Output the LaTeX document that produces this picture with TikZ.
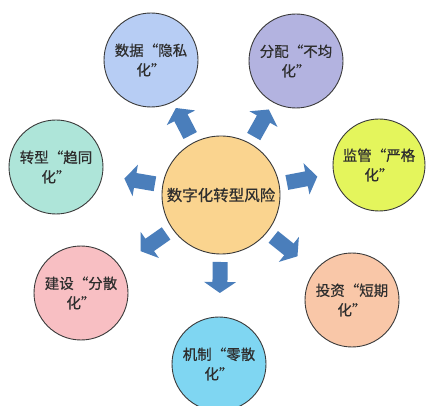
\documentclass[tikz,border=0pt]{standalone}
\usepackage{fontspec}
\newfontfamily\cjk[FakeBold=0.5]{Noto Sans CJK SC}
\usetikzlibrary{calc}
\definecolor{arrowblue}{RGB}{74,126,187}
\definecolor{cCenter}{HTML}{FAD48F}
\definecolor{cData}{HTML}{B7CDF4}
\definecolor{cDist}{HTML}{B3B3E0}
\definecolor{cReg}{HTML}{E4F55C}
\definecolor{cInv}{HTML}{F9C7A8}
\definecolor{cMech}{HTML}{7FD6F2}
\definecolor{cBuild}{HTML}{F8BFC3}
\definecolor{cTrans}{HTML}{AEE5D9}
\definecolor{txt}{HTML}{2E2E2E}
\definecolor{rim}{HTML}{3A3A3A}
\tikzset{
  bubble/.style={circle, draw=rim, line width=0.9pt, minimum size=94pt, inner sep=0pt,
    align=center, text=txt, font=\cjk\fontsize{14.5pt}{19.5pt}\selectfont},
  hub/.style={circle, draw=rim, line width=0.9pt, fill=cCenter, minimum size=118pt, inner sep=0pt,
    text=txt, font=\cjk\fontsize{15.5pt}{19pt}\selectfont},
}
\newcommand\blockarrow[2]{%
  \pgfmathanglebetweenpoints{\pgfpointanchor{#1}{center}}{\pgfpointanchor{#2}{center}}%
  \let\arrang\pgfmathresult
  \begin{scope}[shift={(#1.center)}, rotate=\arrang]
    \fill[arrowblue] (67pt,-7.5pt) -- (87pt,-7.5pt) -- (87pt,-16pt) -- (98pt,0pt)
      -- (87pt,16pt) -- (87pt,7.5pt) -- (67pt,7.5pt) -- cycle;
  \end{scope}}
\begin{document}
\begin{tikzpicture}[x=1pt,y=-1pt]
\useasboundingbox[fill=white] (0,0) rectangle (426,406);
\node[hub] (c) at (221,195) {数字化转型风险};
\node[bubble, fill=cData]  (sj) at (151,60)  {数据“隐私\\化”};
\node[bubble, fill=cDist]  (fp) at (296,61)  {分配“不均\\化”};
\node[bubble, fill=cReg, minimum size=92pt] (jg) at (379,165) {监管“严格\\化”};
\node[bubble, fill=cTrans] (zx) at (56,167)  {转型“趋同\\化”};
\node[bubble, fill=cBuild] (js) at (81,293)  {建设“分散\\化”};
\node[bubble, fill=cInv]   (tz) at (352,300) {投资“短期\\化”};
\node[bubble, fill=cMech]  (jz) at (219,364) {机制“零散\\化”};
\blockarrow{c}{sj}
\blockarrow{c}{fp}
\blockarrow{c}{jg}
\blockarrow{c}{zx}
\blockarrow{c}{js}
\blockarrow{c}{tz}
\blockarrow{c}{jz}
\end{tikzpicture}
\end{document}
